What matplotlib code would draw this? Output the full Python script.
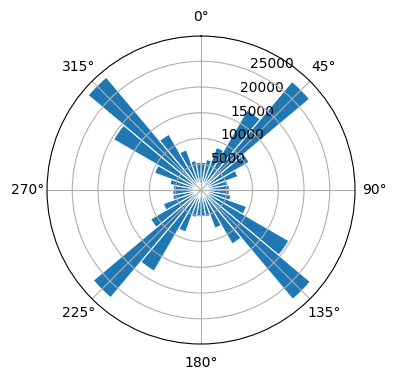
import numpy as np
import matplotlib
matplotlib.use("Agg")
import matplotlib.pyplot as plt

# bin centres in degrees (10-degree bins)
bin_centers_deg = [5, 15, 25, 35, 45, 55, 65, 75, 85,
                   95, 105, 115, 125, 135, 145, 155, 165, 175,
                   185, 195, 205, 215, 225, 235, 245, 255, 265,
                   275, 285, 295, 305, 315, 325, 335, 345, 355]
counts = [5400, 6000, 8800, 17900, 27500, 10800, 7600, 5300, 5500,
          5500, 5900, 9400, 19700, 27700, 12100, 7900, 5300, 5000,
          5000, 5400, 8700, 18200, 27300, 11300, 7800, 5600, 5500,
          5400, 6100, 9600, 19600, 28600, 12500, 8300, 5800, 5400]
bin_width_deg = 10

fig = plt.figure(figsize=(3.96, 3.80), dpi=100)
ax = fig.add_axes([0.1187, 0.0947, 0.7778, 0.8105], projection="polar")
ax.set_theta_zero_location("N")
ax.set_theta_direction(-1)

ax.bar(np.deg2rad(bin_centers_deg), counts, width=np.deg2rad(bin_width_deg),
       color="#1f77b4", edgecolor="white", linewidth=0.8)
ax.set_ylim(0, 29900)
ax.set_yticks([5000, 10000, 15000, 20000, 25000])
ax.set_rlabel_position(22.5)

fig.savefig("out.png", dpi=100)
